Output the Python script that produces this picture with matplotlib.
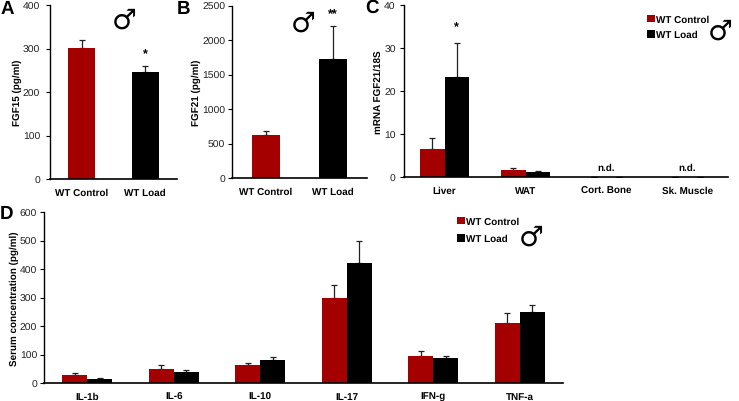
import matplotlib
matplotlib.use('Agg')
import matplotlib.pyplot as plt
import numpy as np

plt.rcParams['font.family'] = ['Liberation Sans', 'DejaVu Sans']
plt.rcParams['text.hinting'] = 'none'

W, H = 739, 402
RED = '#a50000'
BLACK = '#000000'

groups = ['WT Control', 'WT Load']

fgf15 = [302, 246]
fgf15_err = [17, 14]
fgf21 = [620, 1725]
fgf21_err = [55, 475]

tissues = ['Liver', 'WAT', 'Cort. Bone', 'Sk. Muscle']
mrna_control = [6.6, 1.6, 0, 0]
mrna_control_err = [2.4, 0.4, 0, 0]
mrna_load = [23.2, 1.2, 0, 0]
mrna_load_err = [7.9, 0.15, 0, 0]

cytokines = ['IL-1b', 'IL-6', 'IL-10', 'IL-17', 'IFN-g', 'TNF-a']
serum_control = [28, 48, 63, 300, 95, 210]
serum_control_err = [6, 14, 6, 43, 17, 36]
serum_load = [14, 37, 81, 420, 88, 248]
serum_load_err = [3, 8, 10, 78, 6, 26]


def make_axes(fig, box, tick_pad):
    # pixel box to figure fraction
    left, right, top, bottom = box
    ax = fig.add_axes([left / W, 1 - bottom / H, (right - left) / W, (bottom - top) / H])
    ax.spines['top'].set_visible(False)
    ax.spines['right'].set_visible(False)
    ax.spines['left'].set_linewidth(1.0)
    ax.spines['bottom'].set_linewidth(1.2)
    ax.tick_params(axis='y', length=3, width=0.8, labelsize=7.5, labelcolor='#222222', pad=tick_pad)
    ax.tick_params(axis='x', length=0, labelsize=7.1, pad=6)
    return ax


def err(ax, x, y, e, width):
    ax.errorbar(x, y, yerr=[np.zeros(len(e)), e], fmt='none', ecolor='#222222',
                elinewidth=0.9, capsize=width, capthick=0.9, zorder=1)


def set_ylabel(ax, box, text, label_px):
    # label_px is the right edge of the rotated label, in picture pixels
    ax.set_ylabel(text, fontsize=7.1, fontweight='bold')
    ax.yaxis.set_label_coords((label_px - box[0]) / (box[1] - box[0]), 0.5)


def two_bar_panel(fig, box, vals, errs, ymax, step, ylabel, width, tick_pad, label_px):
    ax = make_axes(fig, box, tick_pad)
    x = np.arange(2)
    err(ax, x, vals, errs, 2.2)
    ax.bar(x, vals, width=width, color=[RED, BLACK], zorder=2)
    ax.set_xlim(-0.5, 1.5)
    ax.set_ylim(0, ymax)
    ax.set_yticks(np.arange(0, ymax + 1, step))
    ax.set_xticks(x)
    ax.set_xticklabels(groups, fontweight='bold')
    set_ylabel(ax, box, ylabel, label_px)
    return ax


def grouped_panel(fig, box, cats, v1, e1, v2, e2, ymax, step, ylabel, width, tick_pad, label_px):
    ax = make_axes(fig, box, tick_pad)
    x = np.arange(len(cats))
    err(ax, x - width / 2, v1, e1, 2.2)
    err(ax, x + width / 2, v2, e2, 2.2)
    ax.bar(x - width / 2, v1, width=width, color=RED, label=groups[0], zorder=2)
    ax.bar(x + width / 2, v2, width=width, color=BLACK, label=groups[1], zorder=2)
    ax.set_xlim(-0.5, len(cats) - 0.5)
    ax.set_ylim(0, ymax)
    ax.set_yticks(np.arange(0, ymax + 1, step))
    ax.set_xticks(x)
    ax.set_xticklabels(cats, fontweight='bold')
    set_ylabel(ax, box, ylabel, label_px)
    return ax


def legend_at(ax, fig, px, py, spacing):
    ax.legend(loc='upper left', bbox_to_anchor=(px / W, 1 - py / H), bbox_transform=fig.transFigure,
              frameon=False, handlelength=0.8, handleheight=0.8, handletextpad=0.1,
              labelspacing=spacing, borderpad=0, borderaxespad=0,
              prop={'weight': 'bold', 'size': 7.1})


def male(fig, px, py, size):
    fig.text(px / W, 1 - py / H, '\u2642', family='DejaVu Sans', fontsize=size, fontweight='bold',
             ha='center', va='center', color='black')


fig = plt.figure(figsize=(W / 100, H / 100), dpi=100)

ax_a = two_bar_panel(fig, (50, 177, 6, 180), fgf15, fgf15_err, 400, 100, 'FGF15 (pg/ml)', 0.42, 4, 22.5)
ax_a.text(1, 288, '*', ha='center', va='center', fontsize=9, fontweight='bold')

ax_b = two_bar_panel(fig, (232, 367, 6.5, 179), fgf21, fgf21_err, 2500, 500, 'FGF21 (pg/ml)', 0.41, 2, 201)
ax_b.text(1, 2380, '**', ha='center', va='center', fontsize=9, fontweight='bold')

ax_c = grouped_panel(fig, (404, 728, 6, 178), tissues, mrna_control, mrna_control_err,
                     mrna_load, mrna_load_err, 40, 10, 'mRNA FGF21/18S', 0.3, 3, 382.5)
ax_c.text(0.15, 35, '*', ha='center', va='center', fontsize=9, fontweight='bold')
ax_c.text(2, 2.2, 'n.d.', ha='center', va='center', fontsize=7.1, fontweight='bold')
ax_c.text(3, 2.2, 'n.d.', ha='center', va='center', fontsize=7.1, fontweight='bold')
legend_at(ax_c, fig, 647, 15.5, 0.63)

ax_d = grouped_panel(fig, (44, 563, 213, 384), cytokines, serum_control, serum_control_err,
                     serum_load, serum_load_err, 600, 100, 'Serum concentration (pg/ml)', 0.29, 2, 19)
legend_at(ax_d, fig, 457, 217.5, 0.83)

male(fig, 124, 21, 20)
male(fig, 303, 23.5, 20)
male(fig, 720, 32, 20)
male(fig, 531, 237.5, 20)

for letter, px, py in [('A', 7, 9), ('B', 184, 9), ('C', 372, 8), ('D', 7, 214)]:
    fig.text(px / W, 1 - py / H, letter, fontsize=13.5, fontweight='bold', ha='center', va='center')

fig.savefig('out.png', dpi=100)
